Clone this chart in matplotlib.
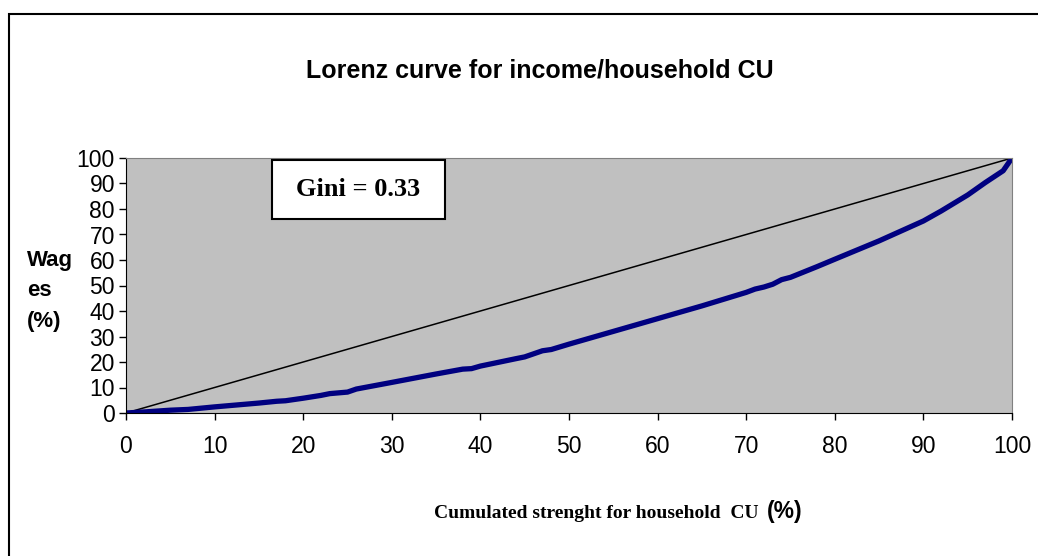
import matplotlib.pyplot as plt
from matplotlib.patches import Rectangle

# Lorenz curve points (cumulated CU %, wages %)
cum_pop = [0, 2, 5, 7, 10, 15, 17, 18, 20, 22, 23, 25, 26, 30, 35, 38, 39, 40, 44, 45, 47, 48,
           50, 55, 60, 65, 70, 71, 72, 73, 74, 75, 78, 80, 85, 90, 92, 95, 97, 99, 100]
cum_wages = [0, 0.4, 1.1, 1.4, 2.4, 3.9, 4.6, 4.8, 5.8, 6.9, 7.6, 8.2, 9.4, 12, 15.3, 17.2, 17.4,
             18.4, 21.3, 22, 24.4, 24.9, 27, 32, 37, 42, 47.3, 48.6, 49.4, 50.5, 52.3, 53.2,
             57.4, 60.3, 67.5, 75.3, 79.2, 85.5, 90.4, 95, 100]
equality = [0, 100]
ticks = list(range(0, 101, 10))

fig = plt.figure(figsize=(10.38, 5.56), dpi=100)
fig.patch.set_facecolor('white')

# outer chart frame
fig.patches.append(Rectangle((9 / 1038, -0.1), 1.2, 1 - 14 / 556 + 0.1, transform=fig.transFigure,
                             fill=False, edgecolor='black', linewidth=1.5))

ax = fig.add_axes([126 / 1038, 1 - 413 / 556, 886 / 1038, 255 / 556])
ax.set_facecolor('#c0c0c0')

ax.plot(equality, equality, color='black', linewidth=1.1)
ax.plot(cum_pop, cum_wages, color='#000080', linewidth=3.8, solid_capstyle='round',
        solid_joinstyle='round')

ax.set_xlim(0, 100)
ax.set_ylim(0, 100)
ax.set_xticks(ticks)
ax.set_yticks(ticks)
ax.tick_params(direction='out', length=5, width=1, labelsize=16.5)
ax.tick_params(axis='x', pad=11)
ax.tick_params(axis='y', pad=3)
for lbl in ax.get_xticklabels() + ax.get_yticklabels():
    lbl.set_family('Liberation Sans')

ax.spines['left'].set_color('black')
ax.spines['bottom'].set_color('black')
ax.spines['top'].set_color('#808080')
ax.spines['right'].set_color('#808080')

# Gini annotation box
ax.add_patch(Rectangle((16.5, 76.1), 19.5, 23.1, facecolor='white', edgecolor='black',
                       linewidth=1.5, zorder=3))
ax.text(26.2, 87.6, 'Gini = 0.33', family='Liberation Serif', fontweight='bold', fontsize=19,
        ha='center', va='center', zorder=4)

fig.text(540 / 1038, 1 - 70 / 556, 'Lorenz curve for income/household CU', family='Liberation Sans',
         fontweight='bold', fontsize=18, ha='center', va='center')
fig.text(27 / 1038, 1 - 291 / 556, 'Wag\nes\n(%)', family='Liberation Sans', fontweight='bold',
         fontsize=16, ha='left', va='center', linespacing=1.6)
fig.text(758 / 1038, 1 - 518 / 556, 'Cumulated strenght for household  CU', family='Liberation Serif',
         fontweight='bold', fontsize=14, ha='right', va='baseline')
fig.text(767 / 1038, 1 - 518 / 556, '(%)', family='Liberation Sans', fontweight='bold',
         fontsize=16.5, ha='left', va='baseline')

fig.savefig('out.png', dpi=100)
